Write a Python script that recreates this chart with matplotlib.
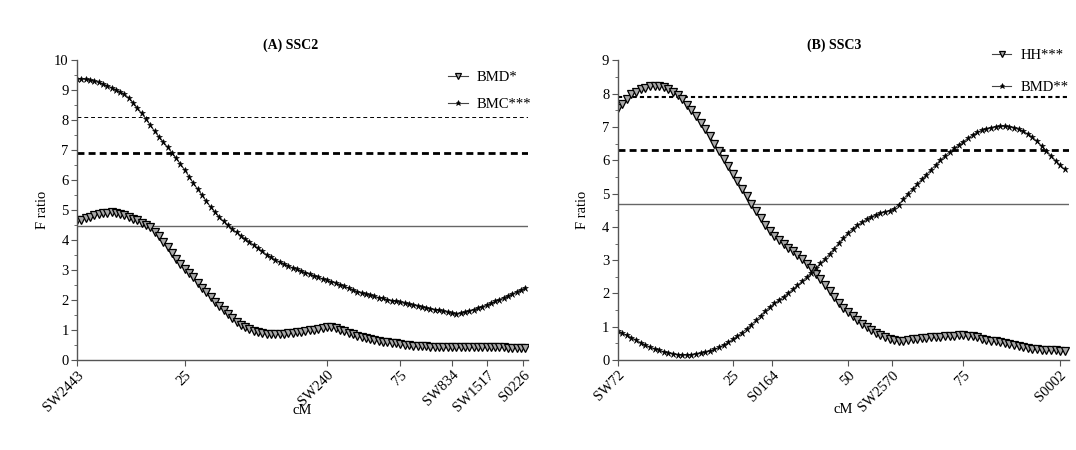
import matplotlib
matplotlib.use("Agg")
from matplotlib import pyplot as plt
import numpy as np

plt.rcParams['font.family'] = ['Liberation Serif', 'DejaVu Serif']
plt.rcParams['font.size'] = 10.5

# ---- (A) SSC2, one value per cM from 0 to 104 ----
cm_a = list(range(0, 105))
bmd_a = [4.65, 4.68, 4.73, 4.78, 4.82, 4.86, 4.89, 4.91, 4.92, 4.91,
         4.88, 4.83, 4.77, 4.71, 4.65, 4.58, 4.51, 4.42, 4.28, 4.12,
         3.94, 3.75, 3.55, 3.36, 3.19, 3.04, 2.90, 2.75, 2.58, 2.41,
         2.26, 2.10, 1.94, 1.79, 1.65, 1.52, 1.39, 1.28, 1.18, 1.09,
         1.02, 0.97, 0.93, 0.90, 0.88, 0.87, 0.87, 0.87, 0.88, 0.89,
         0.90, 0.92, 0.94, 0.96, 0.99, 1.01, 1.04, 1.07, 1.10, 1.11,
         1.07, 1.01, 0.95, 0.90, 0.85, 0.81, 0.77, 0.73, 0.70, 0.67,
         0.64, 0.61, 0.59, 0.57, 0.55, 0.53, 0.51, 0.50, 0.48, 0.47,
         0.46, 0.45, 0.44, 0.44, 0.43, 0.43, 0.43, 0.43, 0.43, 0.43,
         0.43, 0.44, 0.44, 0.44, 0.44, 0.44, 0.43, 0.43, 0.42, 0.42,
         0.41, 0.41, 0.40, 0.40, 0.39]
bmc_a = [9.38, 9.37, 9.35, 9.32, 9.29, 9.25, 9.20, 9.14, 9.08, 9.01,
         8.94, 8.85, 8.74, 8.58, 8.40, 8.22, 8.03, 7.83, 7.62, 7.44,
         7.27, 7.09, 6.91, 6.72, 6.53, 6.33, 6.11, 5.89, 5.69, 5.49,
         5.29, 5.10, 4.93, 4.77, 4.62, 4.49, 4.37, 4.25, 4.14, 4.04,
         3.94, 3.83, 3.72, 3.62, 3.51, 3.42, 3.34, 3.27, 3.20, 3.14,
         3.07, 3.02, 2.97, 2.91, 2.86, 2.81, 2.76, 2.70, 2.65, 2.61,
         2.56, 2.51, 2.45, 2.40, 2.34, 2.28, 2.23, 2.19, 2.15, 2.12,
         2.08, 2.05, 2.01, 1.98, 1.95, 1.92, 1.89, 1.86, 1.83, 1.80,
         1.77, 1.74, 1.71, 1.68, 1.65, 1.62, 1.59, 1.55, 1.53, 1.55,
         1.59, 1.63, 1.68, 1.73, 1.78, 1.83, 1.89, 1.95, 2.01, 2.08,
         2.14, 2.20, 2.27, 2.34, 2.40]
ticks_a = [0, 25, 58, 75, 87, 95.2, 103.5]
ticklabels_a = ['SW2443', '25', 'SW240', '75', 'SW834', 'SW1517', 'S0226']
thresh_a = [8.1, 6.9, 4.47]

# ---- (B) SSC3, one value per cM from 0 to 97 ----
cm_b = list(range(0, 98))
hh_b = [7.58, 7.68, 7.85, 7.98, 8.06, 8.13, 8.18, 8.22, 8.24, 8.24,
        8.21, 8.14, 8.05, 7.96, 7.83, 7.67, 7.50, 7.32, 7.13, 6.94,
        6.72, 6.50, 6.27, 6.05, 5.82, 5.60, 5.37, 5.15, 4.93, 4.70,
        4.47, 4.26, 4.07, 3.89, 3.72, 3.60, 3.49, 3.38, 3.27, 3.15,
        3.02, 2.88, 2.75, 2.59, 2.42, 2.24, 2.07, 1.90, 1.72, 1.55,
        1.43, 1.32, 1.20, 1.09, 0.99, 0.90, 0.82, 0.75, 0.69, 0.64,
        0.59, 0.57, 0.58, 0.60, 0.62, 0.64, 0.66, 0.67, 0.68, 0.69,
        0.70, 0.71, 0.72, 0.73, 0.74, 0.74, 0.73, 0.71, 0.68, 0.64,
        0.61, 0.58, 0.56, 0.53, 0.51, 0.48, 0.46, 0.43, 0.40, 0.37,
        0.34, 0.32, 0.31, 0.30, 0.29, 0.29, 0.28, 0.28]
bmd_b = [0.87, 0.81, 0.74, 0.67, 0.60, 0.52, 0.45, 0.39, 0.34, 0.29,
         0.25, 0.21, 0.18, 0.16, 0.15, 0.15, 0.16, 0.18, 0.20, 0.23,
         0.27, 0.32, 0.38, 0.45, 0.53, 0.62, 0.72, 0.82, 0.94, 1.06,
         1.19, 1.33, 1.47, 1.59, 1.70, 1.80, 1.90, 2.01, 2.12, 2.24,
         2.36, 2.49, 2.62, 2.76, 2.90, 3.04, 3.19, 3.35, 3.51, 3.67,
         3.82, 3.94, 4.05, 4.14, 4.23, 4.30, 4.36, 4.41, 4.45, 4.49,
         4.55, 4.67, 4.83, 5.00, 5.14, 5.28, 5.43, 5.57, 5.72, 5.86,
         6.00, 6.13, 6.25, 6.36, 6.46, 6.56, 6.66, 6.76, 6.84, 6.90,
         6.95, 6.98, 7.01, 7.02, 7.02, 7.01, 6.98, 6.93, 6.87, 6.79,
         6.69, 6.57, 6.43, 6.29, 6.14, 5.99, 5.85, 5.73]
ticks_b = [0, 25, 33.5, 50, 59.5, 75, 95.9]
ticklabels_b = ['SW72', '25', 'S0164', '50', 'SW2570', '75', 'S0002']
thresh_b = [7.9, 6.3, 4.7]

fig = plt.figure(figsize=(10.76, 4.5), dpi=100)
ax1 = fig.add_axes([0.0716, 0.2, 0.419, 0.6667])
ax2 = fig.add_axes([0.574, 0.2, 0.4194, 0.6656])

axis_col = '#555555'

def style_axis(ax, xmax, ymax, ticks, labels):
    for s in ['top', 'right']:
        ax.spines[s].set_visible(False)
    for s in ['left', 'bottom']:
        ax.spines[s].set_color(axis_col)
        ax.spines[s].set_linewidth(1.0)
    ax.set_xlim(0, xmax)
    ax.set_ylim(0, ymax)
    ax.set_yticks(range(0, ymax + 1))
    ax.set_yticks(np.arange(0.5, ymax, 1.0), minor=True)
    ax.tick_params(axis='both', which='major', direction='out', length=4,
                   color=axis_col, labelsize=10.5, pad=2)
    ax.tick_params(axis='y', which='minor', direction='out', length=2.5,
                   color=axis_col)
    ax.set_xticks(ticks)
    ax.set_xticklabels(labels, rotation=45, ha='right', rotation_mode='anchor')
    ax.set_xlabel('cM', fontsize=10.5)
    ax.xaxis.set_label_coords(0.5, -0.145)
    ax.set_ylabel('F ratio', fontsize=10.5)

def draw_thresholds(ax, vals, thin_style):
    ax.axhline(vals[0], color='black', lw=thin_style[0], ls=(0, thin_style[1]))
    ax.axhline(vals[1], color='black', lw=2.0, ls=(0, (2.5, 1.5)))
    ax.axhline(vals[2], color='#666666', lw=1.0)

def draw_series(ax, x, y, kind, label):
    if kind == 'tri':
        return ax.plot(x, y, color='#444444', lw=0.8, marker='v', ms=5.2,
                       mfc='#a8a8a8', mec='black', mew=0.9, label=label)[0]
    return ax.plot(x, y, color='#444444', lw=0.8, marker='*', ms=4.6,
                   mfc='black', mec='black', mew=0.4, label=label)[0]

# panel A
style_axis(ax1, 104.6, 10, ticks_a, ticklabels_a)
ax1.yaxis.set_label_coords(-0.062, 0.5)
draw_thresholds(ax1, thresh_a, (0.7, (4, 3)))
l1 = draw_series(ax1, cm_a, bmd_a, 'tri', 'BMD*')
l2 = draw_series(ax1, cm_a, bmc_a, 'star', 'BMC***')
ax1.text(0.474, 1.05, '(A) SSC2', transform=ax1.transAxes, ha='center',
         va='center', fontweight='bold', fontsize=10)
ax1.legend(handles=[l1, l2], loc='upper left', bbox_to_anchor=(0.8226, 0.965),
           frameon=False, borderpad=0, borderaxespad=0, handlelength=1.35,
           handletextpad=0.65, labelspacing=0.95, fontsize=10.5, markerscale=0.8)

# panel B
style_axis(ax2, 97.9, 9, ticks_b, ticklabels_b)
ax2.yaxis.set_label_coords(-0.064, 0.5)
draw_thresholds(ax2, thresh_b, (1.5, (2, 1.5)))
l3 = draw_series(ax2, cm_b, hh_b, 'tri', 'HH***')
l4 = draw_series(ax2, cm_b, bmd_b, 'star', 'BMD**')
ax2.text(0.48, 1.05, '(B) SSC3', transform=ax2.transAxes, ha='center',
         va='center', fontweight='bold', fontsize=10)
ax2.legend(handles=[l3, l4], loc='upper left', bbox_to_anchor=(0.829, 1.04),
           frameon=False, borderpad=0, borderaxespad=0, handlelength=1.35,
           handletextpad=0.65, labelspacing=1.3, fontsize=10.5, markerscale=0.8)

fig.savefig('out.png', dpi=100)
